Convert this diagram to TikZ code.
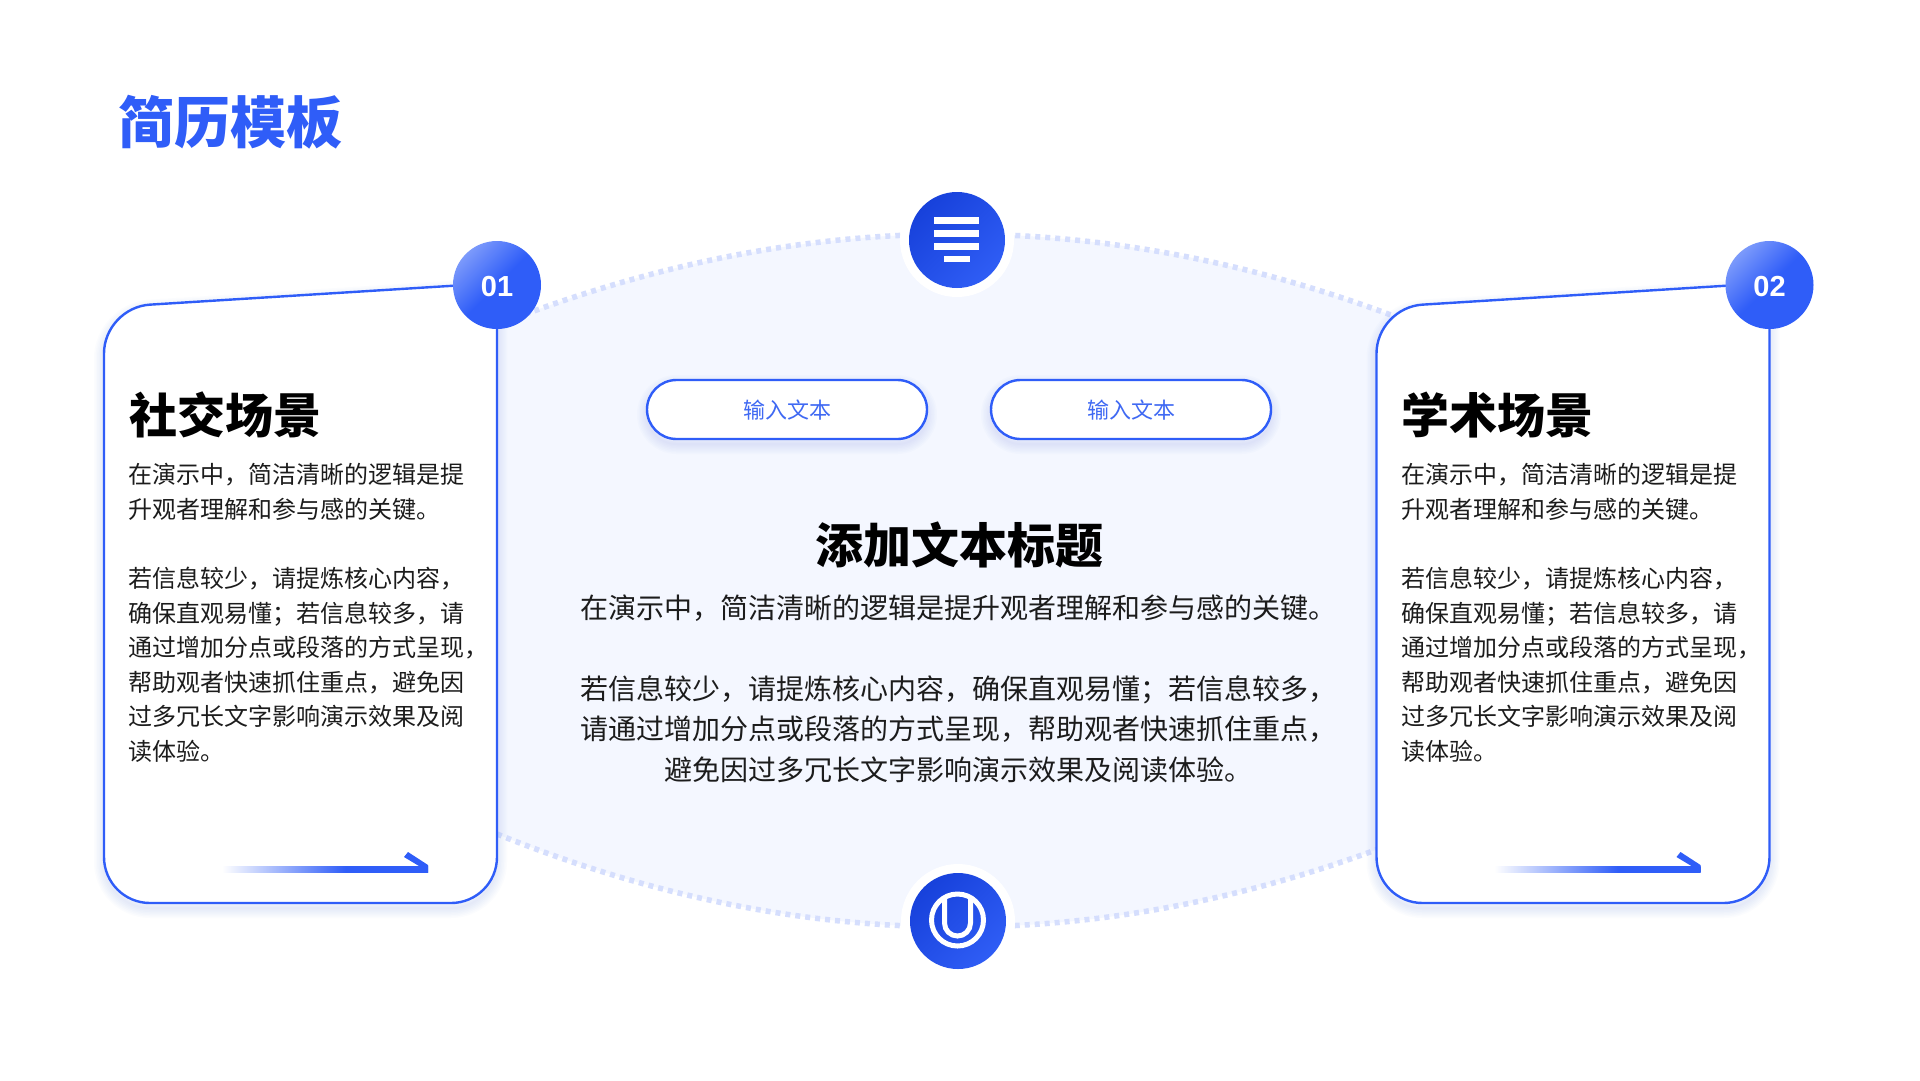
\documentclass[tikz,border=0pt]{standalone}
\usepackage{fontspec}
\setmainfont{Liberation Sans}
\newfontfamily\cjk{Noto Sans CJK SC}
\definecolor{brand}{HTML}{2F5DF8}
\definecolor{brandlight}{HTML}{7C9AFB}
\definecolor{deep}{HTML}{1741DB}
\definecolor{deeplight}{HTML}{2F5DF5}
\definecolor{blobfill}{HTML}{F4F7FF}
\definecolor{dotline}{HTML}{D5DEFD}
\definecolor{pilltext}{HTML}{3F69F3}
\definecolor{bodytext}{HTML}{1C1C1C}
\pgfdeclarehorizontalshading{arrowfade}{100bp}{color(0bp)=(white); color(25bp)=(white); color(55bp)=(brand); color(100bp)=(brand)}
\tikzset{
  cardline/.style={draw=brand,line width=2.4pt,fill=white},
  dotted curve/.style={draw=dotline,line width=5.5pt,dash pattern=on 5pt off 5pt},
  numdisc/.style={circle,minimum size=88pt,inner sep=0pt,shading=axis,top color=brandlight,bottom color=brand,middle color=brand,shading angle=45},
  numtext/.style={inner sep=0pt,text=white,font=\fontsize{29}{29}\selectfont\bfseries},
  icondisc/.style={circle,minimum size=96pt,inner sep=0pt,shading=axis,top color=deep,bottom color=deeplight,shading angle=45},
  ringdisc/.style={circle,minimum size=114pt,inner sep=0pt,fill=white},
  pill/.style={draw=brand,line width=2.4pt,fill=white,rounded corners=29.5pt,minimum width=280pt,minimum height=59pt,inner sep=0pt},
  pilllabel/.style={inner sep=0pt,text=pilltext,font=\cjk\fontsize{22}{22}\selectfont},
  cardhead/.style={anchor=west,inner sep=0pt,font=\cjk\fontsize{48}{48}\selectfont\bfseries,text=black},
  cardbody/.style={anchor=north west,inner sep=0pt,align=left,text=bodytext,font=\cjk\fontsize{24}{34.6}\selectfont},
  iconbar/.style={fill=white,draw=none},
  iconstroke/.style={draw=white,line width=5pt},
}
\newcommand{\cardoutline}{(497,283) [rounded corners=46pt] -- (104,307.5) -- (104,903) -- (497,903) [sharp corners] -- cycle}
\newcommand{\softglow}[1]{%
  \foreach \w in {2,5,8,11,14,17,20}{%
    \draw[draw=brand,draw opacity=0.016,line width=\w pt,line join=round] #1;
  }}
\newcommand{\cardblock}[4]{%
  \begin{scope}[shift={(#1,0)}]
    \begin{scope}[yshift=-5pt]\softglow{\cardoutline}\end{scope}
    \path[cardline] \cardoutline;
    \node[numdisc] (num#2) at (497,285) {};
    \node[numtext] (numlabel#2) at (497,287) {#2};
    \node[cardhead] (head#2) at (129,415) {#3};
    \node[cardbody] (body#2) at (128.5,#4) {在演示中，简洁清晰的逻辑是提\\升观者理解和参与感的关键。\\\mbox{}\\若信息较少，请提炼核心内容，\\确保直观易懂；若信息较多，请\\通过增加分点或段落的方式呈现，\\帮助观者快速抓住重点，避免因\\过多冗长文字影响演示效果及阅\\读体验。};
    \path[shading=arrowfade] (222,866.5) rectangle (428,872.5);
    \fill[brand] (404,857) -- (408,852) -- (428,865) -- (428,872.5) -- (424,869) -- cycle;
  \end{scope}}
\begin{document}
\begin{tikzpicture}[x=1pt,y=-1pt]
\useasboundingbox (0,0) rectangle (1920,1080);
\fill[white] (0,0) rectangle (1920,1080);
% blob
\fill[blobfill] (497,325) .. controls (803.7,203.7) and (1110.3,203.7) .. (1417,325) -- (1417,834) .. controls (1110.3,958) and (803.7,958) .. (497,834) -- cycle;
\draw[dotted curve] (497,325) .. controls (803.7,203.7) and (1110.3,203.7) .. (1417,325);
\draw[dotted curve] (497,834) .. controls (803.7,958) and (1110.3,958) .. (1417,834);
% title
\node[anchor=west,inner sep=0pt,text=brand,font=\cjk\fontsize{56}{56}\selectfont\bfseries] (title) at (118,122) {简历模板};
% cards
\cardblock{0}{01}{社交场景}{463.3}
\cardblock{1272.5}{02}{学术场景}{463.3}
% top icon
\node[ringdisc] (ringtop) at (957,240) {};
\node[icondisc] (icontop) at (957,240) {};
\fill[iconbar] (934,217) rectangle (979,223.5);
\fill[iconbar] (934,230) rectangle (979,236.5);
\fill[iconbar] (934,243) rectangle (979,249.5);
\fill[iconbar] (943.5,256) rectangle (969.5,262);
% bottom icon
\node[ringdisc] (ringbot) at (958,921) {};
\node[icondisc] (iconbot) at (958,921) {};
\draw[iconstroke] (957.5,920) circle[radius=26];
\draw[iconstroke] (944.5,896) -- (944.5,923) .. controls (944.5,930.2) and (950.3,936) .. (957.5,936) .. controls (964.7,936) and (970.5,930.2) .. (970.5,923) -- (970.5,896);
% pills
\begin{scope}[yshift=-5pt]
\softglow{[rounded corners=29.5pt] (647,380) rectangle (927,439)}
\softglow{[rounded corners=29.5pt] (991,380) rectangle (1271,439)}
\end{scope}
\node[pill] (pillone) at (787,409.5) {};
\node[pill] (pilltwo) at (1131,409.5) {};
\node[pilllabel] (labelone) at (787,410.5) {输入文本};
\node[pilllabel] (labeltwo) at (1131,410.5) {输入文本};
% centre text
\node[inner sep=0pt,text=black,font=\cjk\fontsize{48}{48}\selectfont\bfseries] (midhead) at (959,545) {添加文本标题};
\node[anchor=north,inner sep=0pt,align=center,text=bodytext,font=\cjk\fontsize{28}{40.5}\selectfont] (midbody) at (958.5,594.5) {在演示中，简洁清晰的逻辑是提升观者理解和参与感的关键。\\\mbox{}\\若信息较少，请提炼核心内容，确保直观易懂；若信息较多，\\请通过增加分点或段落的方式呈现，帮助观者快速抓住重点，\\避免因过多冗长文字影响演示效果及阅读体验。};
\end{tikzpicture}
\end{document}
